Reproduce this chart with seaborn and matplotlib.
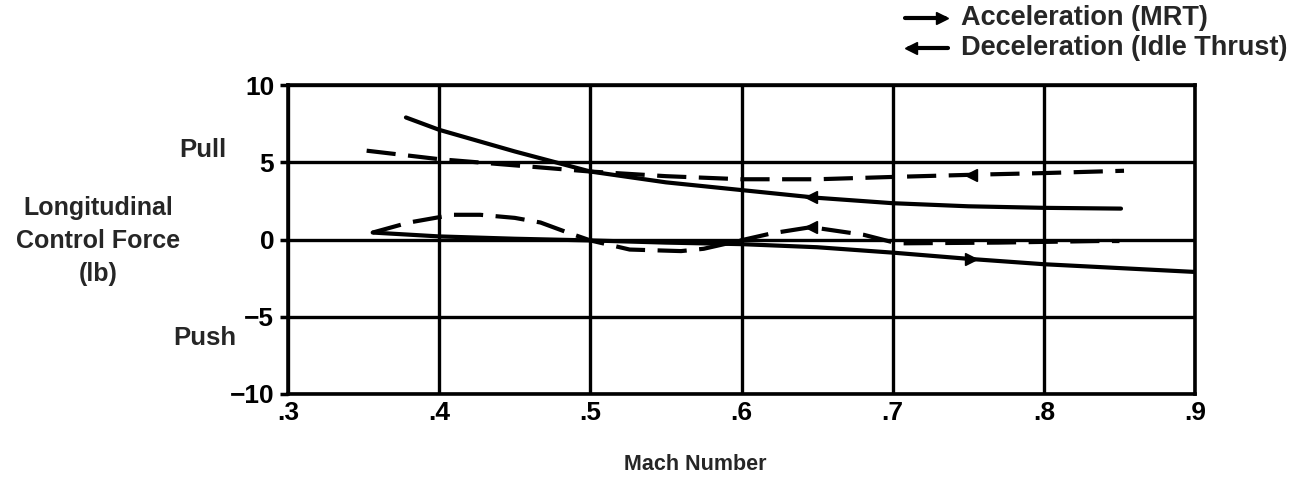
import numpy as np
import pandas as pd
import seaborn as sns
import matplotlib.pyplot as plt

sns.set_style("white")
plt.rcParams['font.family'] = ['Liberation Sans', 'DejaVu Sans']
plt.rcParams['font.weight'] = 'bold'

# upper pair
acc_up_mach = [0.378, 0.40, 0.45, 0.50, 0.55, 0.60, 0.65, 0.70, 0.75, 0.80, 0.851]
acc_up_force = [7.9, 7.1, 5.7, 4.4, 3.7, 3.2, 2.7, 2.35, 2.15, 2.05, 2.0]
dec_up_mach = [0.352, 0.40, 0.45, 0.50, 0.55, 0.60, 0.65, 0.70, 0.756, 0.80, 0.853]
dec_up_force = [5.75, 5.2, 4.8, 4.4, 4.1, 3.9, 3.9, 4.05, 4.2, 4.3, 4.45]
# lower pair
acc_lo_mach = [0.356, 0.40, 0.45, 0.50, 0.55, 0.60, 0.65, 0.70, 0.75, 0.80, 0.85, 0.90]
acc_lo_force = [0.45, 0.2, 0.05, -0.06, -0.2, -0.3, -0.5, -0.85, -1.25, -1.6, -1.85, -2.1]
dec_lo_mach = [0.356, 0.38, 0.409, 0.427, 0.45, 0.467, 0.485, 0.50, 0.526, 0.56, 0.575,
               0.593, 0.62, 0.646, 0.681, 0.703, 0.77, 0.836, 0.85]
dec_lo_force = [0.45, 1.1, 1.6, 1.6, 1.4, 1.1, 0.45, -0.06, -0.65, -0.75, -0.6,
                -0.2, 0.4, 0.8, 0.3, -0.25, -0.2, -0.1, -0.1]

# arrowheads: (mach, force, direction)
arrows = [(0.646, 2.72, '<'), (0.752, 4.2, '<'), (0.752, -1.28, '>'), (0.646, 0.8, '<')]

fig = plt.figure(figsize=(12.98, 4.82), dpi=100)
ax = fig.add_axes([0.2219, 0.1826, 0.6988, 0.641])

lw = 3.0
sns.lineplot(x=acc_up_mach, y=acc_up_force, ax=ax, color='black', lw=lw, sort=False)
sns.lineplot(x=acc_lo_mach, y=acc_lo_force, ax=ax, color='black', lw=lw, sort=False)
sns.lineplot(x=dec_up_mach, y=dec_up_force, ax=ax, color='black', lw=lw, sort=False)
sns.lineplot(x=dec_lo_mach, y=dec_lo_force, ax=ax, color='black', lw=lw, sort=False)
ax.lines[2].set_dashes([7, 3])
ax.lines[3].set_dashes([7, 3])

for mx, fy, m in arrows:
    ax.plot(mx, fy, marker=m, color='black', ms=9)

ax.set_xlim(0.3, 0.9)
ax.set_ylim(-10, 10)
ax.set_xticks([0.3, 0.4, 0.5, 0.6, 0.7, 0.8, 0.9])
ax.set_xticklabels(['.3', '.4', '.5', '.6', '.7', '.8', '.9'])
ax.set_yticks([10, 5, 0, -5, -10])
ax.set_yticklabels(['10', '5', '0', '\u22125', '\u221210'])
ax.tick_params(axis='both', labelsize=19, width=2.5, colors='black')
ax.tick_params(axis='y', length=6, pad=4, direction='out', left=True)
ax.tick_params(axis='x', length=0, pad=5)
ax.grid(True, color='black', lw=2.4)
for s in ax.spines.values():
    s.set_color('black')
    s.set_linewidth(2.6)

ax.set_xlabel('')
ax.set_ylabel('')
fig.text(695 / 1298, 1 - 465 / 482, 'Mach Number', fontsize=15.5, fontweight='bold',
         ha='center', va='center')

fig.text(203 / 1298, 1 - 150 / 482, 'Pull', fontsize=18.5, fontweight='bold', ha='center', va='center')
fig.text(205 / 1298, 1 - 338 / 482, 'Push', fontsize=18.5, fontweight='bold', ha='center', va='center')
fig.text(98 / 1298, 1 - 241 / 482, 'Longitudinal\nControl Force\n(lb)', fontsize=18, fontweight='bold',
         ha='center', va='center', linespacing=1.45)

# legend drawn at top right
fig.lines.append(plt.Line2D([0.697, 0.728], [0.962, 0.962], color='black', lw=3, transform=fig.transFigure))
fig.lines.append(plt.Line2D([0.726], [0.962], marker='>', color='black', ms=8, transform=fig.transFigure))
fig.lines.append(plt.Line2D([0.700, 0.730], [0.900, 0.900], color='black', lw=3, transform=fig.transFigure))
fig.lines.append(plt.Line2D([0.702], [0.900], marker='<', color='black', ms=8, transform=fig.transFigure))
fig.text(0.740, 0.962, 'Acceleration (MRT)', fontsize=19.5, fontweight='bold', va='center')
fig.text(0.740, 0.900, 'Deceleration (Idle Thrust)', fontsize=19.5, fontweight='bold', va='center')

fig.savefig('out.png', dpi=100, facecolor='white')
